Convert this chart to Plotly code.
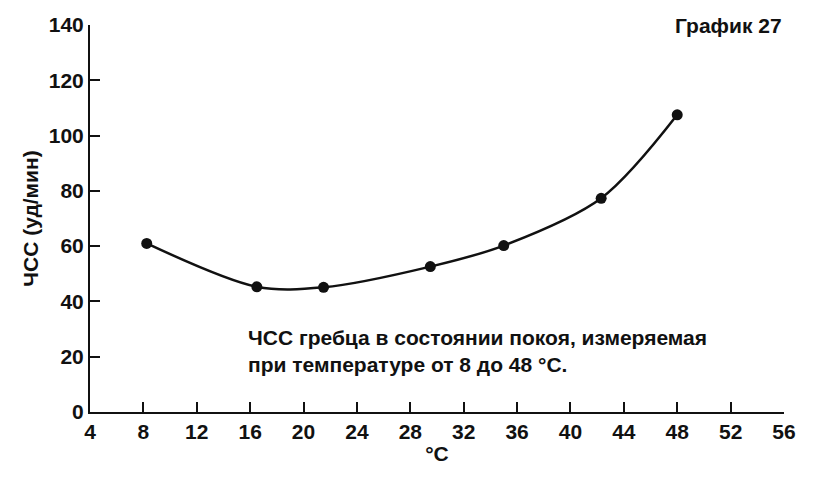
import plotly.graph_objects as go

# temperature, deg C
temp = [8.25, 16.5, 21.5, 29.5, 35.0, 42.3, 48.0]
# resting heart rate, beats/min
hr = [61.0, 45.3, 45.1, 52.6, 60.2, 77.3, 107.5]

x_ticks = list(range(4, 57, 4))
y_ticks = list(range(0, 141, 20))

family = "Liberation Sans, Arial, sans-serif"
font = dict(family=family, size=21, color="#111", weight="bold")

fig = go.Figure()
fig.add_trace(go.Scatter(
    x=temp, y=hr, mode="lines+markers",
    line=dict(color="#111", width=2.5, shape="spline", smoothing=0.9),
    marker=dict(color="#111", size=11),
))

fig.update_xaxes(
    range=[4, 56], tickvals=x_ticks, ticks="inside", ticklen=10, tickwidth=1.5,
    tickcolor="#111", showline=True, linecolor="#111", linewidth=2,
    showgrid=False, zeroline=False, tickfont=font, automargin=False,
    title=dict(text="°C", font=font, standoff=4),
)
fig.update_yaxes(
    range=[0, 140], tickvals=y_ticks, ticks="inside", ticklen=10, tickwidth=1.5,
    tickcolor="#111", showline=True, linecolor="#111", linewidth=2,
    showgrid=False, zeroline=False, tickfont=font, automargin=False,
    title=dict(text="ЧСС (уд/мин)", font=font, standoff=4),
)

fig.add_annotation(
    text="График 27", xref="paper", yref="paper", x=1.0, y=1.0,
    xanchor="right", yanchor="middle", showarrow=False,
    font=font,
)
fig.add_annotation(
    text="ЧСС гребца в состоянии покоя, измеряемая<br>при температуре от 8 до 48 °C.",
    xref="x", yref="y", x=15.7, y=22, xanchor="left", yanchor="middle",
    align="left", showarrow=False,
    font=font,
)

# the page adds an 8px body margin, so the margins are shifted by that
fig.update_layout(
    width=824, height=483, showlegend=False,
    paper_bgcolor="white", plot_bgcolor="white",
    margin=dict(l=82, r=48, t=17, b=79),
)

fig.write_html("out.html")
